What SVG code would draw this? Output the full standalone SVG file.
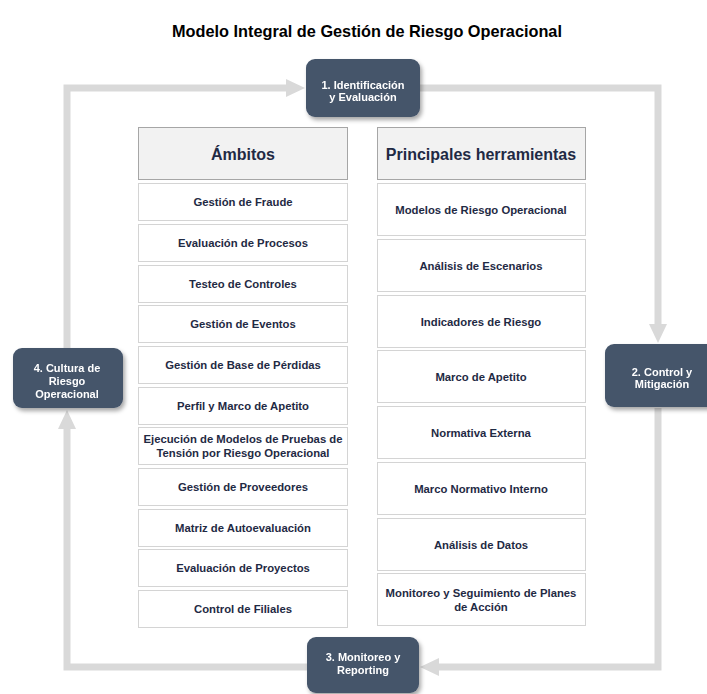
<svg xmlns="http://www.w3.org/2000/svg" width="707" height="694" viewBox="0 0 707 694">
<style>
.title{font-family:"Liberation Sans",Arial,sans-serif;font-weight:bold;font-size:16.3px;fill:#000;text-anchor:middle}
.node rect{fill:#44546a}
.node text{font-family:"Liberation Sans",Arial,sans-serif;font-weight:bold;font-size:11px;fill:#fff;text-anchor:middle}
.hdr rect{fill:#f2f2f2;stroke:#a6a6a6;stroke-width:1}
.hdr text{font-family:"Liberation Sans",Arial,sans-serif;font-weight:bold;font-size:16px;fill:#1f2a44;text-anchor:middle}
.item rect{fill:#fff;stroke:#d4d4d4;stroke-width:1}
.item text{font-family:"Liberation Sans",Arial,sans-serif;font-weight:bold;font-size:11.3px;fill:#1f2a44;text-anchor:middle}
.conn path{fill:none;stroke:#d9d9d9;stroke-width:7;stroke-linejoin:miter;marker-end:url(#arr)}
</style>
<defs>
<marker id="arr" markerUnits="userSpaceOnUse" markerWidth="20" markerHeight="22" refX="0" refY="11" orient="auto" viewBox="0 0 20 22">
<path d="M0,2 L19,11 L0,20 z" fill="#d9d9d9"/>
</marker>
<filter id="sh" x="-20%" y="-20%" width="140%" height="150%">
<feDropShadow dx="2" dy="3" stdDeviation="2" flood-color="#000" flood-opacity="0.35"/>
</filter>
</defs>
<rect width="707" height="694" fill="#fff"/>
<text class="title" x="367" y="37">Modelo Integral de Gestión de Riesgo Operacional</text>

<g class="conn" id="connectors">
<path d="M67,348 V88 H286"/>
<path d="M420,88 H658 V324"/>
<path d="M658,408 V667 H439"/>
<path d="M307,667 H67 V429"/>
</g>

<g class="node" id="n1" filter="url(#sh)">
<rect x="306" y="59" width="114" height="58" rx="9"/>
<text x="363" y="88.5">1. Identificación</text>
<text x="363" y="100.5">y Evaluación</text>
</g>
<g class="node" id="n2" filter="url(#sh)">
<rect x="605" y="344" width="116" height="63" rx="9"/>
<text x="662" y="375.5">2. Control y</text>
<text x="662" y="387.5">Mitigación</text>
</g>
<g class="node" id="n3" filter="url(#sh)">
<rect x="307" y="637" width="112" height="56" rx="9"/>
<text x="363" y="660.5">3. Monitoreo y</text>
<text x="363" y="673.5">Reporting</text>
</g>
<g class="node" id="n4" filter="url(#sh)">
<rect x="13" y="348" width="110" height="60" rx="9"/>
<text x="67" y="371.5">4. Cultura de</text>
<text x="67" y="384.5">Riesgo</text>
<text x="67" y="397.5">Operacional</text>
</g>

<g class="hdr" id="h-ambitos">
<rect x="138.5" y="127.5" width="209" height="52"/>
<text x="243" y="160">Ámbitos</text>
</g>
<g class="hdr" id="h-herr">
<rect x="377.5" y="127.5" width="208" height="52"/>
<text x="481" y="160">Principales herramientas</text>
</g>

<g class="item" id="a1"><rect x="138.5" y="183.5" width="209" height="37"/><text x="243" y="206">Gestión de Fraude</text></g>
<g class="item" id="a2"><rect x="138.5" y="224.5" width="209" height="37"/><text x="243" y="247">Evaluación de Procesos</text></g>
<g class="item" id="a3"><rect x="138.5" y="265.5" width="209" height="37"/><text x="243" y="288">Testeo de Controles</text></g>
<g class="item" id="a4"><rect x="138.5" y="305.5" width="209" height="37"/><text x="243" y="328">Gestión de Eventos</text></g>
<g class="item" id="a5"><rect x="138.5" y="346.5" width="209" height="37"/><text x="243" y="369">Gestión de Base de Pérdidas</text></g>
<g class="item" id="a6"><rect x="138.5" y="387.5" width="209" height="37"/><text x="243" y="410">Perfil y Marco de Apetito</text></g>
<g class="item" id="a7"><rect x="138.5" y="427.5" width="209" height="37"/><text x="243" y="443">Ejecución de Modelos de Pruebas de</text><text x="243" y="457">Tensión por Riesgo Operacional</text></g>
<g class="item" id="a8"><rect x="138.5" y="468.5" width="209" height="37"/><text x="243" y="491">Gestión de Proveedores</text></g>
<g class="item" id="a9"><rect x="138.5" y="509.5" width="209" height="37"/><text x="243" y="532">Matriz de Autoevaluación</text></g>
<g class="item" id="a10"><rect x="138.5" y="549.5" width="209" height="37"/><text x="243" y="572">Evaluación de Proyectos</text></g>
<g class="item" id="a11"><rect x="138.5" y="590.5" width="209" height="37"/><text x="243" y="613">Control de Filiales</text></g>

<g class="item" id="b1"><rect x="377.5" y="183.5" width="208" height="52"/><text x="481" y="213.5">Modelos de Riesgo Operacional</text></g>
<g class="item" id="b2"><rect x="377.5" y="239.5" width="208" height="52"/><text x="481" y="269.5">Análisis de Escenarios</text></g>
<g class="item" id="b3"><rect x="377.5" y="295.5" width="208" height="52"/><text x="481" y="325.5">Indicadores de Riesgo</text></g>
<g class="item" id="b4"><rect x="377.5" y="350.5" width="208" height="52"/><text x="481" y="380.5">Marco de Apetito</text></g>
<g class="item" id="b5"><rect x="377.5" y="406.5" width="208" height="52"/><text x="481" y="437">Normativa Externa</text></g>
<g class="item" id="b6"><rect x="377.5" y="462.5" width="208" height="52"/><text x="481" y="492.5">Marco Normativo Interno</text></g>
<g class="item" id="b7"><rect x="377.5" y="518.5" width="208" height="52"/><text x="481" y="548.5">Análisis de Datos</text></g>
<g class="item" id="b8"><rect x="377.5" y="573.5" width="208" height="52"/><text x="481" y="597">Monitoreo y Seguimiento de Planes</text><text x="481" y="611">de Acción</text></g>
</svg>
